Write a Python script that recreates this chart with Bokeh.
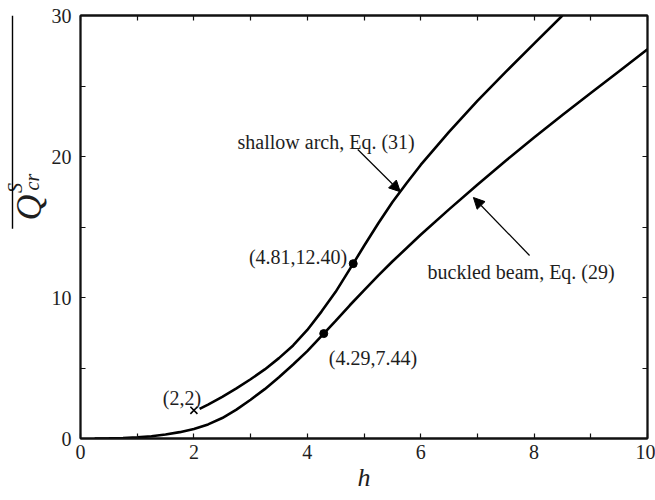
import math
from bokeh.plotting import figure
from bokeh.layouts import row
from bokeh.models import (Range1d, FixedTicker, LinearAxis, Label, Arrow,
                          NormalHead)
from bokeh.core.properties import value
from bokeh.embed import file_html
from bokeh.resources import INLINE

# ---- data -------------------------------------------------------------
arch_h = [2.1, 2.25, 2.5, 2.75, 3.0, 3.25, 3.5, 3.75, 4.0, 4.25, 4.5, 4.81, 5.0,
          5.25, 5.5, 5.75, 6.0, 6.5, 7.0, 7.5, 8.0, 8.5]
arch_q = [2.1, 2.4, 2.95, 3.55, 4.2, 4.9, 5.7, 6.6, 7.7, 9.0, 10.4, 12.40, 13.65,
          15.25, 16.75, 18.1, 19.4, 21.75, 23.95, 26.0, 28.0, 30.0]

beam_h = [0.25, 0.5, 0.75, 1.0, 1.25, 1.5, 1.75, 2.0, 2.25, 2.5, 2.75, 3.0, 3.25,
          3.5, 3.75, 4.0, 4.29, 4.5, 4.75, 5.0, 5.25, 5.5, 6.0, 6.5, 7.0, 7.5,
          8.0, 8.5, 9.0, 9.5, 10.0]
beam_q = [0.0, 0.01, 0.03, 0.08, 0.16, 0.28, 0.45, 0.68, 1.0, 1.45, 2.05, 2.75, 3.5,
          4.35, 5.25, 6.2, 7.44, 8.35, 9.45, 10.5, 11.55, 12.55, 14.45, 16.25, 18.0,
          19.7, 21.35, 22.95, 24.5, 26.05, 27.6]

pts_h = [4.81, 4.29]
pts_q = [12.40, 7.44]
start_h = [2]
start_q = [2]

x_ticks = [0, 2, 4, 6, 8, 10]
x_minor = [1, 3, 5, 7, 9]
y_ticks = [0, 10, 20, 30]
y_minor = [5, 15, 25]

FONT = "Liberation Serif"
TXT = "#1e1e1e"
LEFT_W = 48

p = figure(width=655 - LEFT_W, height=500, output_backend="svg", toolbar_location=None,
           x_range=Range1d(0, 10), y_range=Range1d(0, 30),
           min_border_left=80 - LEFT_W, min_border_right=8, min_border_top=15,
           min_border_bottom=62)
p.xgrid.visible = False
p.ygrid.visible = False
p.outline_line_color = "#111111"
p.outline_line_width = 1.8
p.background_fill_color = "white"
p.border_fill_color = "white"


def style_axis(ax, ticks, minor, labels=True):
    ax.ticker = FixedTicker(ticks=ticks, minor_ticks=minor)
    ax.axis_line_color = "#111111"
    ax.axis_line_width = 1.8
    ax.major_tick_in = 5
    ax.major_tick_out = 0
    ax.minor_tick_in = 5
    ax.minor_tick_out = 0
    ax.major_tick_line_color = "#111111"
    ax.minor_tick_line_color = "#111111"
    ax.major_tick_line_width = 1.2
    ax.minor_tick_line_width = 1.2
    if labels:
        ax.major_label_text_font = FONT
        ax.major_label_text_font_size = "20px"
        ax.major_label_text_color = TXT
    else:
        ax.major_label_overrides = {t: "" for t in ticks}
        ax.major_label_text_font_size = "8px"
        ax.major_label_standoff = 0


style_axis(p.xaxis[0], x_ticks, x_minor)
p.xaxis[0].major_label_standoff = 6
p.xaxis[0].axis_label = "h"
p.xaxis[0].axis_label_text_font = FONT
p.xaxis[0].axis_label_text_font_size = "26px"
p.xaxis[0].axis_label_text_font_style = "italic"
p.xaxis[0].axis_label_text_color = TXT
p.xaxis[0].axis_label_standoff = 1
style_axis(p.yaxis[0], y_ticks, y_minor)
p.yaxis[0].major_label_standoff = 9

top = LinearAxis()
style_axis(top, x_ticks, x_minor, labels=False)
p.add_layout(top, "above")
right = LinearAxis()
style_axis(right, y_ticks, y_minor, labels=False)
p.add_layout(right, "right")

# ---- curves -----------------------------------------------------------
p.line(beam_h, beam_q, line_color="black", line_width=2.6)
p.line(arch_h, arch_q, line_color="black", line_width=2.6)
p.scatter(pts_h, pts_q, size=8, color="black")
p.scatter(start_h, start_q, marker="x", size=10, line_color="black", line_width=1.6)

# ---- annotations ------------------------------------------------------
def lab(x, y, text, size="20px", style="normal"):
    p.add_layout(Label(x=x, y=y, text=text, text_font=FONT, text_font_size=size,
                       text_font_style=style, text_color=TXT, text_align="left",
                       text_baseline="alphabetic"))

lab(2.77, 21.0, "shallow arch, Eq. (31)")
lab(6.12, 11.84, "buckled beam, Eq. (29)")
lab(2.97, 12.84, "(4.81,12.40)")
lab(4.38, 5.74, "(4.29,7.44)")
lab(1.45, 2.84, "(2,2)")

p.add_layout(Arrow(x_start=4.89, y_start=20.5, x_end=5.64, y_end=17.5,
                   line_color="black", line_width=1.2,
                   end=NormalHead(size=11, fill_color="black", line_color="black")))
p.add_layout(Arrow(x_start=7.92, y_start=12.98, x_end=6.93, y_end=17.09,
                   line_color="black", line_width=1.2,
                   end=NormalHead(size=11, fill_color="black", line_color="black")))

# ---- y-axis label panel: overlined Q_cr^S, rotated ---------------------
lf = figure(width=LEFT_W, height=500, output_backend="svg", toolbar_location=None,
            x_range=Range1d(0, LEFT_W), y_range=Range1d(0, 500),
            min_border=0, min_border_left=0, min_border_right=0,
            min_border_top=0, min_border_bottom=0)
lf.axis.visible = False
lf.grid.visible = False
lf.outline_line_color = None
lf.background_fill_color = "white"
lf.border_fill_color = "white"

rot = math.pi / 2


def vtext(x, y, text, size):
    lf.text(x=[x], y=[y], text=[text], angle=rot, text_font=value(FONT),
            text_font_size=size, text_font_style="italic", text_color=TXT,
            text_align="center", text_baseline="middle")


vtext(28.5, 500 - 227, "Q", "36px")
vtext(31, 500 - 197, "cr", "20px")
vtext(14, 500 - 204, "S", "20px")
lf.segment(x0=[12], y0=[500], x1=[12], y1=[248], line_color="black", line_width=1.4)

layout = row(lf, p, spacing=0)
open("out.html", "w").write(file_html(layout, INLINE))
